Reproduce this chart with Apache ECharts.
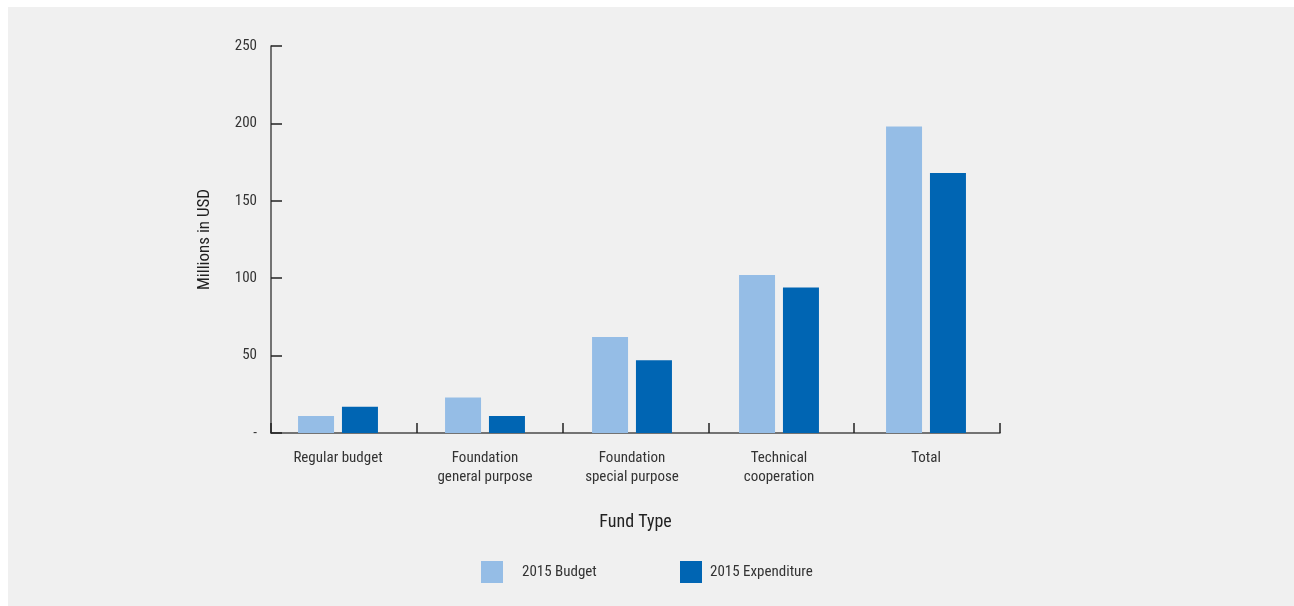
<!DOCTYPE html>
<html>
<head>
<meta charset="utf-8">
<script src="https://cdn.jsdelivr.net/npm/echarts@6/dist/echarts.min.js"></script>
<style>
html,body{margin:0;padding:0;background:#fff;}
#c{width:1294px;height:606px;}
</style>
</head>
<body>
<div id="c"></div>
<script>
const categories = ['Regular budget', 'Foundation\ngeneral purpose', 'Foundation\nspecial purpose', 'Technical\ncooperation', 'Total'];
const budget2015 = [11, 23, 62, 102, 198];
const expenditure2015 = [17, 11, 47, 94, 168];
const yTicks = [0, 50, 100, 150, 200, 250];

const FONT = '"Liberation Sans Narrow", "Roboto Condensed", "Arial Narrow", sans-serif';
const chart = echarts.init(document.getElementById('c'), null, {renderer: 'canvas'});
chart.setOption({
  backgroundColor: '#ffffff',
  animation: false,
  graphic: [{
    type: 'rect', z: -100, silent: true,
    shape: {x: 8, y: 7, width: 1286, height: 599},
    style: {fill: '#f0f0f0'}
  }],
  grid: [
    {left: 271, right: 294, top: 46, bottom: 173, containLabel: false},
    {left: 264.5, right: 294.5, top: 46, bottom: 173, containLabel: false}
  ],
  legend: [{
    data: ['2015 Budget'], left: 481, top: 561, itemWidth: 22, itemHeight: 22, padding: 0,
    icon: 'rect',
    textStyle: {fontFamily: FONT, fontSize: 15, color: '#333', padding: [0, 0, 0, 14]}
  }, {
    data: ['2015 Expenditure'], left: 680, top: 561, itemWidth: 22, itemHeight: 22, padding: 0,
    icon: 'rect',
    textStyle: {fontFamily: FONT, fontSize: 15, color: '#333', padding: [0, 0, 0, 3]}
  }],
  xAxis: [{
    gridIndex: 0,
    type: 'category',
    data: categories,
    name: 'Fund Type',
    nameLocation: 'middle',
    nameGap: 80,
    nameTextStyle: {fontFamily: FONT, fontSize: 18, color: '#222'},
    axisLine: {lineStyle: {color: '#4a4a4a', width: 1.5}},
    axisTick: {show: true, inside: true, length: 10, lineStyle: {color: '#222', width: 1.5}},
    axisLabel: {show: false}
  }, {
    gridIndex: 1,
    type: 'category',
    data: categories,
    axisLine: {show: false},
    axisTick: {show: false},
    axisLabel: {fontFamily: FONT, fontSize: 15, color: '#333', margin: 16, lineHeight: 19, interval: 0}
  }],
  yAxis: [{
    gridIndex: 0,
    type: 'value',
    min: 0, max: 250, interval: 50,
    name: 'Millions in USD',
    nameLocation: 'middle',
    nameGap: 58,
    nameTextStyle: {fontFamily: FONT, fontSize: 17, color: '#222'},
    axisLine: {show: true, lineStyle: {color: '#4a4a4a', width: 1.5}},
    axisTick: {show: true, inside: true, length: 11, lineStyle: {color: '#222', width: 1.5}},
    splitLine: {show: false},
    axisLabel: {
      fontFamily: FONT, fontSize: 15, color: '#333', margin: 14,
      formatter: function (v) { return yTicks.indexOf(v) === 0 ? '-' : String(v); }
    }
  }, {
    gridIndex: 1,
    type: 'value',
    min: 0, max: 250, interval: 50,
    show: false
  }],
  series: [{
    name: '2015 Budget', type: 'bar', data: budget2015,
    xAxisIndex: 1, yAxisIndex: 1,
    barWidth: 36, barGap: '22%',
    itemStyle: {color: '#95bde6'}
  }, {
    name: '2015 Expenditure', type: 'bar', data: expenditure2015,
    xAxisIndex: 1, yAxisIndex: 1,
    barWidth: 36,
    itemStyle: {color: '#0065b3'}
  }]
});
</script>
</body>
</html>
